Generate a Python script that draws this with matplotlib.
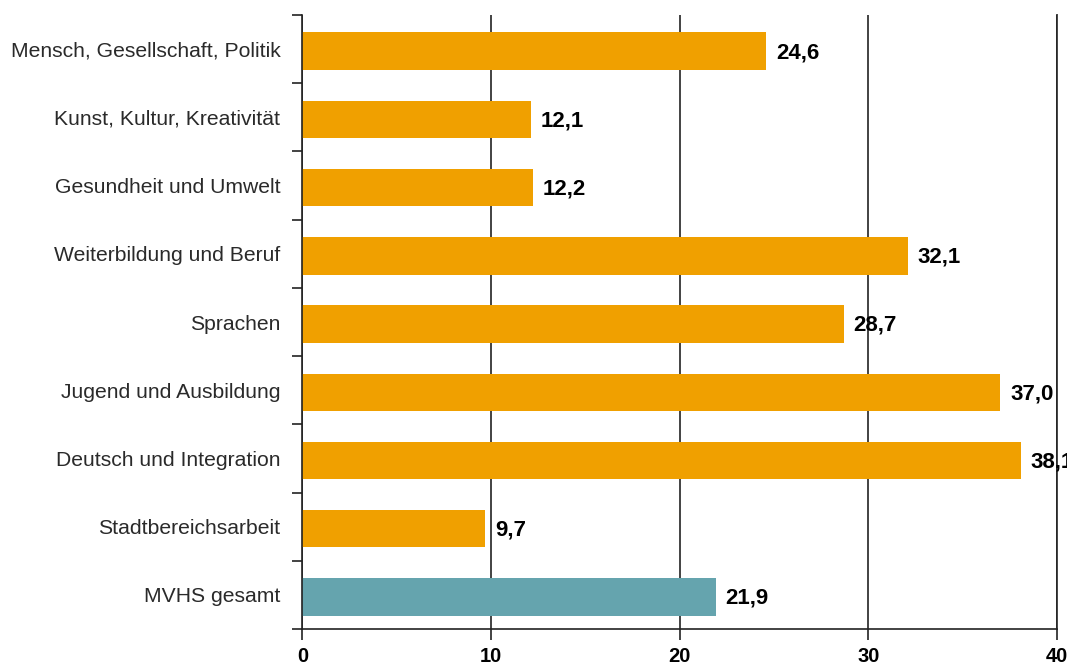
import numpy as np
import matplotlib.pyplot as plt

plt.rcParams['font.family'] = ['Liberation Sans', 'DejaVu Sans']

categories = ['Mensch, Gesellschaft, Politik', 'Kunst, Kultur, Kreativität',
              'Gesundheit und Umwelt', 'Weiterbildung und Beruf', 'Sprachen',
              'Jugend und Ausbildung', 'Deutsch und Integration',
              'Stadtbereichsarbeit', 'MVHS gesamt']
values = [24.6, 12.1, 12.2, 32.1, 28.7, 37.0, 38.1, 9.7, 21.9]
colors = ['#F0A000'] * 8 + ['#65A4AE']
xticks = [0, 10, 20, 30, 40]

fig = plt.figure(figsize=(10.67, 6.64), dpi=100)
ax = fig.add_axes([0.2835, 0.0527, 0.7071, 0.9247])

y = np.arange(len(categories))
ax.barh(y + 0.03, values, height=0.55, color=colors, zorder=2)

for yi, v in zip(y, values):
    ax.annotate(f'{v:.1f}'.replace('.', ','), (v, yi + 0.03), xytext=(7, -1),
                textcoords='offset points', va='center', ha='left',
                fontsize=16, fontweight='bold', color='black', zorder=3)

ax.set_ylim(len(categories) - 0.5, -0.5)
ax.set_xlim(0, 40)

ax.set_yticks(y)
ax.set_yticklabels(categories, fontsize=15.2, color='#2a2a2a')
ax.set_yticks(np.arange(len(categories) + 1) - 0.5, minor=True)
ax.tick_params(axis='y', which='major', length=0, pad=16)
ax.tick_params(axis='y', which='minor', length=7.5, width=1.2, color='#222222')

ax.set_xticks(xticks)
ax.set_xticklabels([str(t) for t in xticks], fontsize=14.5, fontweight='bold')
ax.tick_params(axis='x', length=8, width=1.2, color='#222222', pad=5)

ax.grid(axis='x', color='#222222', linewidth=1.2, zorder=1)
ax.axvline(40, color='#444444', linewidth=1.4, clip_on=False, zorder=1)
for s in ['top', 'right']:
    ax.spines[s].set_visible(False)
for s in ['left', 'bottom']:
    ax.spines[s].set_linewidth(1.2)
    ax.spines[s].set_color('#222222')

fig.savefig('out.png', dpi=100)
